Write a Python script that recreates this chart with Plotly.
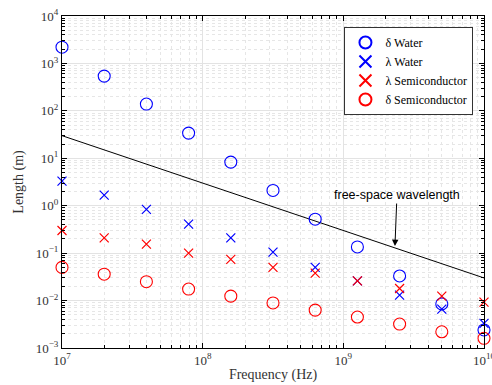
import plotly.graph_objects as go

freq = [10 ** (7 + 0.3 * k) for k in range(11)]

delta_water = [2200, 540, 139, 34, 8.3, 2.1, 0.52, 0.135, 0.033, 0.0085, 0.0024]
lambda_water = [3.3, 1.67, 0.84, 0.41, 0.21, 0.105, 0.05, 0.026, 0.013, 0.0066, 0.0033]
lambda_semi = [0.3, 0.21, 0.155, 0.1, 0.074, 0.05, 0.038, 0.026, 0.018, 0.0124, 0.0093]
delta_semi = [0.05, 0.036, 0.025, 0.0175, 0.0124, 0.0089, 0.0063, 0.0045, 0.0032, 0.0022, 0.0016]

fs_freq = [1e7, 1e10]
fs_lambda = [30, 0.03]

serif = "Liberation Serif, Times New Roman, serif"
BLUE = "rgb(0,0,255)"
RED = "rgb(255,0,0)"

fig = go.Figure()
fig.add_trace(go.Scatter(x=fs_freq, y=fs_lambda, mode="lines",
                         line=dict(color="black", width=1), showlegend=False,
                         cliponaxis=False))
fig.add_trace(go.Scatter(x=freq, y=delta_water, mode="markers", name="δ Water",
                         marker=dict(symbol="circle-open", size=12, color=BLUE,
                                     line=dict(width=1.1, color=BLUE)),
                         cliponaxis=False))
fig.add_trace(go.Scatter(x=freq, y=lambda_water, mode="markers", name="λ Water",
                         marker=dict(symbol="x-thin-open", size=9, color=BLUE,
                                     line=dict(width=1.2, color=BLUE)),
                         cliponaxis=False))
fig.add_trace(go.Scatter(x=freq, y=lambda_semi, mode="markers", name="λ Semiconductor",
                         marker=dict(symbol="x-thin-open", size=9, color=RED,
                                     line=dict(width=1.2, color=RED)),
                         cliponaxis=False))
fig.add_trace(go.Scatter(x=freq, y=delta_semi, mode="markers", name="δ Semiconductor",
                         marker=dict(symbol="circle-open", size=12, color=RED,
                                     line=dict(width=1.1, color=RED)),
                         cliponaxis=False))

x_major = [1e7, 1e8, 1e9, 1e10]
x_text = ["10<sup>7</sup>", "10<sup>8</sup>", "10<sup>9</sup>", "10<sup>10</sup>"]
x_minor = [m * 10 ** e for e in range(7, 10) for m in range(2, 10)]
y_major = [10 ** e for e in range(-3, 5)]
y_text = ["10<sup>%d</sup>" % e if e >= 0 else "10<sup>\u2212%d</sup>" % (-e) for e in range(-3, 5)]
y_minor = [m * 10.0 ** e for e in range(-3, 4) for m in range(2, 10)]

axis_common = dict(
    type="log", showline=True, linecolor="black", linewidth=1, mirror="ticks",
    ticks="inside", ticklen=5, tickcolor="black", tickwidth=1,
    showgrid=True, gridcolor="#e3e3e3", gridwidth=1, zeroline=False, automargin=False,
    ticklabeloverflow="allow",
    tickfont=dict(family=serif, size=13, color="#333"),
)

fig.update_xaxes(**axis_common, range=[7, 10], tickmode="array", tickvals=x_major, ticktext=x_text,
                 minor=dict(tickvals=x_minor, ticks="inside", ticklen=3, tickcolor="black",
                            showgrid=True, gridcolor="#e6e6e6", griddash="dot", gridwidth=1),
                 title=dict(text="Frequency (Hz)", font=dict(family=serif, size=14, color="#333"), standoff=2))
fig.update_yaxes(**axis_common, range=[-3, 4], tickmode="array", tickvals=y_major, ticktext=y_text,
                 minor=dict(tickvals=y_minor, ticks="inside", ticklen=3, tickcolor="black",
                            showgrid=True, gridcolor="#e6e6e6", griddash="dot", gridwidth=1),
                 title=dict(text="Length (m)", font=dict(family=serif, size=14, color="#333"), standoff=8))

fig.add_annotation(x=9.367, y=-0.85, xref="x", yref="y", text="free-space wavelength",
                   showarrow=True, arrowhead=2, arrowsize=1.3, arrowwidth=1, arrowcolor="black",
                   ax=2, ay=-51, font=dict(family="Liberation Sans", size=12.5, color="black"))

fig.update_layout(
    width=492, height=385,
    margin=dict(l=62, r=8, t=16, b=37),
    plot_bgcolor="white", paper_bgcolor="white",
    legend=dict(x=0.975, y=0.967, xanchor="right", yanchor="top",
                bgcolor="white", bordercolor="#333", borderwidth=1,
                font=dict(family=serif, size=12, color="black"),
                tracegroupgap=0, itemsizing="constant"),
)

fig.write_html("out.html", config={"displayModeBar": False},
               post_script="document.body.style.margin='0';document.body.style.padding='0';")
